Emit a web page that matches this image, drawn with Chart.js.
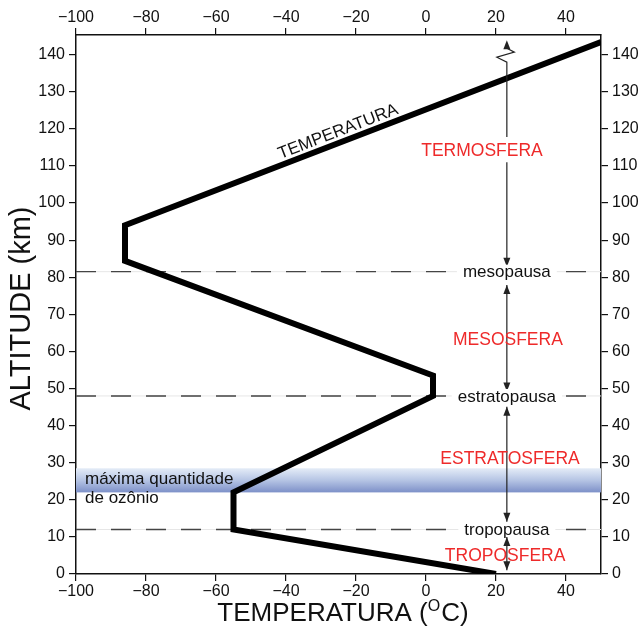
<!DOCTYPE html>
<html>
<head>
<meta charset="utf-8">
<script src="https://cdn.jsdelivr.net/npm/chart.js@4"></script>
<style>
  html, body { margin: 0; padding: 0; background: #fff; }
  #wrap { width: 640px; height: 626px; }
</style>
</head>
<body>
<div id="wrap"><canvas id="perfil" width="640" height="626"></canvas></div>
<script>
// perfil de temperatura da atmosfera
const temperatura = [20, -55, -55, 2, 2, -86, -86, 50];
const altitude = [0, 12, 22, 48, 53.5, 84.4, 94, 143.4];

const ticksTemp = [-100, -80, -60, -40, -20, 0, 20, 40];
const ticksAlt = [0, 10, 20, 30, 40, 50, 60, 70, 80, 90, 100, 110, 120, 130, 140];

const pausas = ["tropopausa", "estratopausa", "mesopausa"];
const pausaAlt = [12, 48, 81.5];

const camadas = ["TROPOSFERA", "ESTRATOSFERA", "MESOSFERA", "TERMOSFERA"];
const camadaAlt = [5.1, 31.3, 63.2, 114.3];
const camadaTemp = [22.6, 24, 23.4, 16];

const ozonioAlt = [22, 28.5];

// setas verticais (altitudes de inicio e fim)
const setaInicio = [111, 77.9, 45.1, 10.0];
const setaFim = [82.8, 49.2, 14.1, 1.0];
const setaTopo = [117.8, 143.9];
const setaTemp = 23.1;

const FONTE = '"Liberation Sans", Arial, Helvetica, sans-serif';
const menos = v => String(v).replace('-', '\u2212');

var ctx = document.getElementById('perfil').getContext('2d');

function seta(c, x, y, dir) {
	// dir: 1 aponta pra baixo, -1 pra cima
	c.beginPath();
	c.moveTo(x, y);
	c.lineTo(x - 3.5, y - dir * 9);
	c.lineTo(x + 3.5, y - dir * 9);
	c.closePath();
	c.fill();
}

const extras = {
	id: 'extras',
	beforeDatasetsDraw(chart) {
		const c = chart.ctx, sx = chart.scales.x, sy = chart.scales.y;
		const a = chart.chartArea;
		const yTop = sy.getPixelForValue(ozonioAlt[1]);
		const yBot = sy.getPixelForValue(ozonioAlt[0]);
		const g = c.createLinearGradient(0, yTop, 0, yBot);
		g.addColorStop(0, '#e4ecf7');
		g.addColorStop(0.5, '#b5c4e4');
		g.addColorStop(1, '#7d90c8');
		c.save();
		c.fillStyle = g;
		c.fillRect(a.left, yTop, a.right - a.left, yBot - yTop);
		c.restore();
	},
	afterDatasetsDraw(chart) {
		const c = chart.ctx, sx = chart.scales.x, sy = chart.scales.y;
		const a = chart.chartArea;
		const xs = sx.getPixelForValue(setaTemp);
		c.save();
		c.strokeStyle = '#222';
		c.fillStyle = '#222';
		c.lineWidth = 1.2;

		// seta do topo com quebra
		const y0 = sy.getPixelForValue(setaTopo[0]);
		const y1 = sy.getPixelForValue(setaTopo[1]);
		c.beginPath();
		c.moveTo(xs, y0);
		c.lineTo(xs, y1 + 22);
		c.lineTo(xs - 10, y1 + 17);
		c.lineTo(xs + 7.5, y1 + 12);
		c.lineTo(xs, y1 + 8);
		c.stroke();
		seta(c, xs, y1, -1);

		for (let i = 0; i < setaInicio.length; i++) {
			const ya = sy.getPixelForValue(setaInicio[i]);
			const yb = sy.getPixelForValue(setaFim[i]);
			c.beginPath();
			c.moveTo(xs, ya);
			c.lineTo(xs, yb);
			c.stroke();
			seta(c, xs, yb, 1);
			if (i > 0) seta(c, xs, ya, -1);
		}

		// nomes das pausas
		c.font = '17px ' + FONTE;
		c.textAlign = 'center';
		c.textBaseline = 'middle';
		pausas.forEach((p, i) => {
			const y = sy.getPixelForValue(pausaAlt[i]);
			const w = c.measureText(p).width;
			c.fillStyle = '#fff';
			c.fillRect(xs - w / 2 - 6, y - 7, w + 12, 14);
			c.fillStyle = '#111';
			c.fillText(p, xs, y + 1);
		});

		// camadas
		c.font = '17.5px ' + FONTE;
		camadas.forEach((nome, i) => {
			const x = sx.getPixelForValue(camadaTemp[i]);
			const y = sy.getPixelForValue(camadaAlt[i]);
			if (i == 3) {
				const w = c.measureText(nome).width;
				c.fillStyle = '#fff';
				c.fillRect(x - w / 2 - 2, y - 9, w + 4, 18);
			}
			c.fillStyle = '#ee2a2a';
			c.fillText(nome, x, y + 1);
		});

		// ozonio
		c.font = '17px ' + FONTE;
		c.textAlign = 'left';
		c.fillStyle = '#111';
		c.fillText('máxima quantidade', a.left + 9, sy.getPixelForValue(25.6));
		c.fillText('de ozônio', a.left + 9, sy.getPixelForValue(20.4));

		// rotulo da curva
		const t0 = 6;
		const ang = Math.atan2(
			sy.getPixelForValue(altitude[t0 + 1]) - sy.getPixelForValue(altitude[t0]),
			sx.getPixelForValue(temperatura[t0 + 1]) - sx.getPixelForValue(temperatura[t0]));
		const tx = sx.getPixelForValue(-24);
		const frac = (-24 - temperatura[t0]) / (temperatura[t0 + 1] - temperatura[t0]);
		const ty = sy.getPixelForValue(altitude[t0] + frac * (altitude[t0 + 1] - altitude[t0]));
		c.translate(tx, ty);
		c.rotate(ang);
		c.textAlign = 'center';
		c.textBaseline = 'alphabetic';
		c.font = '17px ' + FONTE;
		c.fillText('TEMPERATURA', 0, -6);
		c.restore();

		// titulos dos eixos
		c.save();
		c.fillStyle = '#111';
		c.font = '29px ' + FONTE;
		c.textAlign = 'center';
		c.textBaseline = 'middle';
		c.translate(22, (a.top + a.bottom) / 2 + 4);
		c.rotate(-Math.PI / 2);
		c.fillText('ALTITUDE (km)', 0, 0);
		c.restore();

		c.save();
		c.fillStyle = '#111';
		c.textBaseline = 'alphabetic';
		c.textAlign = 'left';
		c.font = '26px ' + FONTE;
		const p1 = 'TEMPERATURA (', p3 = 'C)';
		const w1 = c.measureText(p1).width, w3 = c.measureText(p3).width;
		c.font = '16px ' + FONTE;
		const w2 = c.measureText('O').width;
		let x = 343 - (w1 + w2 + 1 + w3) / 2;
		const base = 621;
		c.font = '26px ' + FONTE;
		c.fillText(p1, x, base);
		x += w1;
		c.font = '16px ' + FONTE;
		c.fillText('O', x, base - 10);
		x += w2 + 1;
		c.font = '26px ' + FONTE;
		c.fillText(p3, x, base);
		c.restore();
	}
};

function eixo(pos, tam, vals) {
	return {
		type: 'linear',
		position: pos,
		afterFit(s) {
			if (pos == 'left' || pos == 'right') s.width = tam; else s.height = tam;
		},
		afterBuildTicks(s) {
			s.ticks = vals.map(v => ({ value: v }));
		},
		grid: { drawOnChartArea: false, drawTicks: true, tickLength: 7, color: '#111', lineWidth: 1.2 },
		border: { display: true, color: '#111', width: 1.5 },
		ticks: {
			color: '#111',
			padding: (pos == 'top' || pos == 'bottom') ? 1 : 4,
			font: { family: FONTE, size: 16 },
			maxRotation: 0,
			autoSkip: false,
			callback: v => menos(v)
		}
	};
}

const pontos = temperatura.map((t, i) => ({ x: t, y: altitude[i] }));

const dsPausa = [];
pausaAlt.forEach(z => {
	dsPausa.push({
		data: [{ x: -100, y: z }, { x: 50, y: z }],
		showLine: true, borderColor: '#e6e6e6', borderWidth: 1, pointRadius: 0, order: 3
	});
	dsPausa.push({
		data: [{ x: -100, y: z }, { x: 50, y: z }],
		showLine: true, borderColor: '#444', borderWidth: 1.4, borderDash: [20, 15], pointRadius: 0, order: 2
	});
});

window.perfilChart = new Chart(ctx, {
	type: 'scatter',
	data: {
		datasets: [
			...dsPausa,
			{
				label: 'Temperatura',
				data: pontos,
				showLine: true,
				borderColor: '#000',
				borderWidth: 6,
				borderJoinStyle: 'miter',
				borderCapStyle: 'butt',
				pointRadius: 0,
				tension: 0,
				order: 1
			}
		]
	},
	options: {
		responsive: false,
		animation: false,
		layout: { padding: 0 },
		plugins: { legend: { display: false }, tooltip: { enabled: false } },
		scales: {
			x: { ...eixo('bottom', 52, ticksTemp), min: -100, max: 50 },
			x2: { ...eixo('top', 35, ticksTemp), min: -100, max: 50 },
			y: { ...eixo('left', 76, ticksAlt), min: 0, max: 145.3 },
			y2: { ...eixo('right', 39, ticksAlt), min: 0, max: 145.3 }
		}
	},
	plugins: [extras]
});
</script>
</body>
</html>
